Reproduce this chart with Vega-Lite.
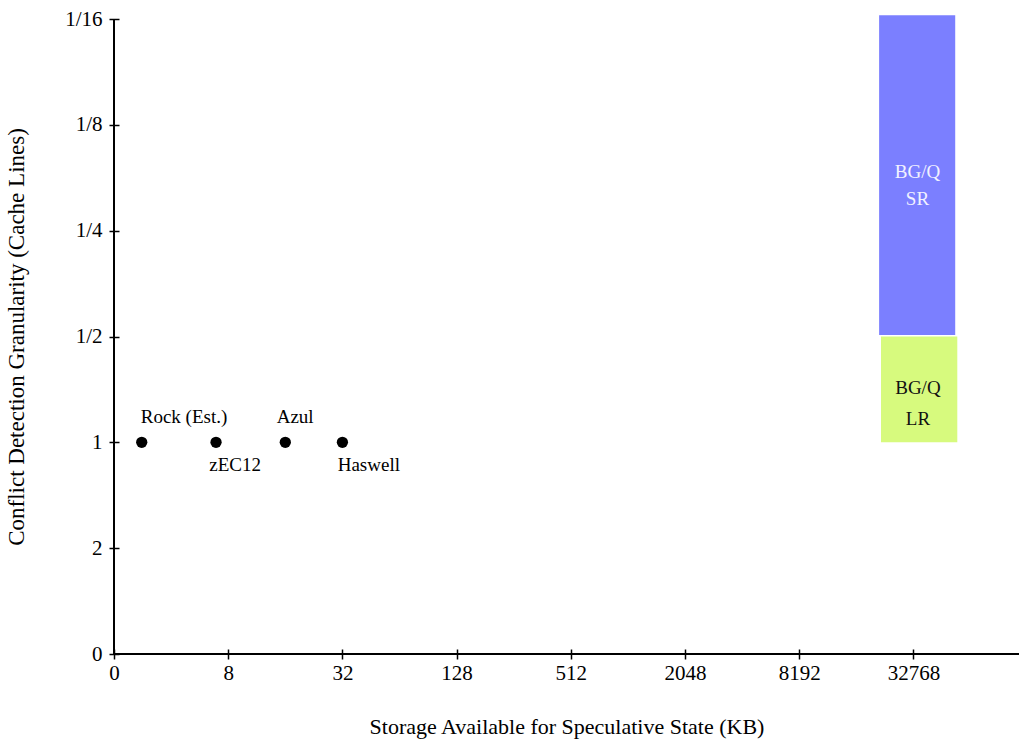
{
  "$schema": "https://vega.github.io/schema/vega-lite/v6.json",
  "width": 905,
  "height": 635,
  "autosize": {"type": "none"},
  "padding": {"left": 114, "top": 19, "right": 0, "bottom": 88},
  "background": "white",
  "config": {
    "font": "Liberation Serif",
    "view": {"stroke": null},
    "axis": {
      "grid": false,
      "domain": false,
      "offset": -5,
      "tickSize": 10,
      "tickColor": "black",
      "tickWidth": 1.5,
      "labelFlush": false,
      "labelOverlap": false,
      "labelFont": "Liberation Serif",
      "labelFontSize": 21,
      "labelColor": "black",
      "titleFont": "Liberation Serif",
      "titleFontSize": 22,
      "titleFontWeight": "normal",
      "titleColor": "black"
    }
  },
  "datasets": {
    "systems": [
      {"name": "Rock (Est.)", "kb": 2.8, "lines": 1},
      {"name": "zEC12", "kb": 6.9, "lines": 1},
      {"name": "Azul", "kb": 16, "lines": 1},
      {"name": "Haswell", "kb": 32, "lines": 1}
    ],
    "ranges": [
      {"name": "BG/Q SR", "kb": 21600, "kb2": 54400, "lines": 0.061, "lines2": 0.495},
      {"name": "BG/Q LR", "kb": 22100, "kb2": 55800, "lines": 0.5, "lines2": 1}
    ],
    "rangeLabels": [
      {"group": "BG/Q SR", "text": "BG/Q", "kb": 34400, "lines": 0.1768},
      {"group": "BG/Q SR", "text": "SR", "kb": 34400, "lines": 0.2107},
      {"group": "BG/Q LR", "text": "BG/Q", "kb": 34600, "lines": 0.7282},
      {"group": "BG/Q LR", "text": "LR", "kb": 34600, "lines": 0.8925}
    ],
    "frame": [
      {"kb": 2, "kb2": 118000, "lines": 4, "lines2": 0.0625}
    ]
  },
  "encoding": {
    "x": {
      "field": "kb",
      "type": "quantitative",
      "scale": {"type": "log", "base": 2, "domain": [2, 118000], "nice": false},
      "axis": {
        "title": "Storage Available for Speculative State (KB)",
        "values": [2, 8, 32, 128, 512, 2048, 8192, 32768],
        "labelExpr": "datum.value == 2 ? '0' : format(datum.value, 'd')",
        "labelPadding": 3,
        "titlePadding": 33
      }
    },
    "y": {
      "field": "lines",
      "type": "quantitative",
      "scale": {"type": "log", "base": 2, "domain": [4, 0.0625], "nice": false},
      "axis": {
        "title": "Conflict Detection Granularity (Cache Lines)",
        "titleFontSize": 23,
        "values": [4, 2, 1, 0.5, 0.25, 0.125, 0.0625],
        "labelExpr": "datum.value > 3 ? '0' : (datum.value >= 1 ? format(datum.value, 'd') : '1/' + format(1 / datum.value, 'd'))",
        "labelPadding": 7,
        "titlePadding": 36
      }
    }
  },
  "layer": [
    {
      "data": {"name": "ranges"},
      "mark": {"type": "rect"},
      "encoding": {
        "x2": {"field": "kb2"},
        "y2": {"field": "lines2"},
        "color": {
          "field": "name",
          "type": "nominal",
          "scale": {"domain": ["BG/Q SR", "BG/Q LR"], "range": ["#7b7fff", "#d7fa7e"]},
          "legend": null
        }
      }
    },
    {
      "data": {"name": "rangeLabels"},
      "transform": [{"filter": "datum.group == 'BG/Q SR'"}],
      "mark": {"type": "text", "align": "center", "baseline": "alphabetic", "fontSize": 19, "color": "#f2f2ff"},
      "encoding": {"text": {"field": "text"}}
    },
    {
      "data": {"name": "rangeLabels"},
      "transform": [{"filter": "datum.group == 'BG/Q LR'"}],
      "mark": {"type": "text", "align": "center", "baseline": "alphabetic", "fontSize": 19, "color": "#111111"},
      "encoding": {"text": {"field": "text"}}
    },
    {
      "data": {"name": "systems"},
      "mark": {"type": "point", "shape": "circle", "filled": true, "size": 127, "color": "black", "opacity": 1}
    },
    {
      "data": {"name": "systems"},
      "transform": [{"filter": "datum.name == 'Rock (Est.)'"}],
      "mark": {"type": "text", "align": "left", "baseline": "alphabetic", "dx": -1, "dy": -19, "fontSize": 19, "color": "black"},
      "encoding": {"text": {"field": "name"}}
    },
    {
      "data": {"name": "systems"},
      "transform": [{"filter": "datum.name == 'Azul'"}],
      "mark": {"type": "text", "align": "left", "baseline": "alphabetic", "dx": -8.6, "dy": -19, "fontSize": 19, "color": "black"},
      "encoding": {"text": {"field": "name"}}
    },
    {
      "data": {"name": "systems"},
      "transform": [{"filter": "datum.name == 'zEC12'"}],
      "mark": {"type": "text", "align": "left", "baseline": "alphabetic", "dx": -6.7, "dy": 29, "fontSize": 19, "color": "black"},
      "encoding": {"text": {"field": "name"}}
    },
    {
      "data": {"name": "systems"},
      "transform": [{"filter": "datum.name == 'Haswell'"}],
      "mark": {"type": "text", "align": "left", "baseline": "alphabetic", "dx": -4.7, "dy": 29, "fontSize": 19, "color": "black"},
      "encoding": {"text": {"field": "name"}}
    },
    {
      "data": {"name": "frame"},
      "mark": {"type": "rule", "color": "black", "strokeWidth": 2, "clip": false},
      "encoding": {
        "y2": {"field": "lines2"}
      }
    },
    {
      "data": {"name": "frame"},
      "mark": {"type": "rule", "color": "black", "strokeWidth": 2, "clip": false},
      "encoding": {
        "x2": {"field": "kb2"}
      }
    }
  ]
}
